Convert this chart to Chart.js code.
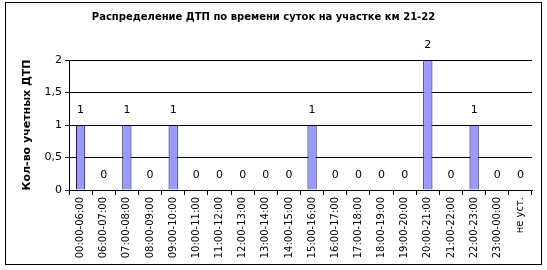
<!DOCTYPE html>
<html>
<head>
<meta charset="utf-8">
<script src="https://cdn.jsdelivr.net/npm/chart.js@4.4.0/dist/chart.umd.min.js"></script>
<style>
    html, body { margin: 0; padding: 0; background: #fff; }
    #wrap { width: 547px; height: 270px; position: relative; }
</style>
</head>
<body>
<div id="wrap"><canvas id="dtpChart" width="547" height="270"></canvas></div>
<script>
// chart data
const timeSlots = [
    "00:00-06:00", "06:00-07:00", "07:00-08:00", "08:00-09:00", "09:00-10:00",
    "10:00-11:00", "11:00-12:00", "12:00-13:00", "13:00-14:00", "14:00-15:00",
    "15:00-16:00", "16:00-17:00", "17:00-18:00", "18:00-19:00", "19:00-20:00",
    "20:00-21:00", "21:00-22:00", "22:00-23:00", "23:00-00:00", "не уст."
];
const accidentCounts = [1, 0, 1, 0, 1, 0, 0, 0, 0, 0, 1, 0, 0, 0, 0, 2, 0, 1, 0, 0];
const yTicks = [0, 0.5, 1, 1.5, 2];

const chartTitle = "Распределение ДТП по времени суток на участке км 21-22";
const yTitle = "Кол-во учетных ДТП";

// white background + outer frame
const framePlugin = {
    id: "frame",
    afterLayout(chart) {
        // title sits a bit left of centre in the original
        chart.titleBlock.left -= 13;
        chart.titleBlock.right -= 13;
    },
    beforeDraw(chart) {
        const ctx = chart.ctx;
        ctx.save();
        ctx.fillStyle = "#fff";
        ctx.fillRect(0, 0, chart.width, chart.height);
        ctx.strokeStyle = "#000";
        ctx.lineWidth = 1;
        ctx.strokeRect(5.5, 2.5, 536, 262);
        ctx.restore();
    }
};

// value labels above each bar
const valueLabels = {
    id: "valueLabels",
    afterDatasetsDraw(chart) {
        const ctx = chart.ctx;
        const meta = chart.getDatasetMeta(0);
        ctx.save();
        ctx.font = "11px 'DejaVu Sans'";
        ctx.fillStyle = "#000";
        ctx.textAlign = "center";
        ctx.textBaseline = "middle";
        meta.data.forEach((bar, i) => {
            ctx.fillText(String(accidentCounts[i]), bar.x, bar.y - 15);
        });
        ctx.restore();
    }
};

const ctx = document.getElementById("dtpChart").getContext("2d");

new Chart(ctx, {
    type: "bar",
    data: {
        labels: timeSlots,
        datasets: [{
            data: accidentCounts,
            backgroundColor: "#9999ff",
            borderColor: "#000033",
            borderWidth: 1,
            barPercentage: 0.4,
            categoryPercentage: 1
        }]
    },
    options: {
        responsive: false,
        animation: false,
        layout: {
            padding: { left: 21, right: 15, top: 0, bottom: 8 }
        },
        plugins: {
            legend: { display: false },
            tooltip: { enabled: false },
            title: {
                display: true,
                text: chartTitle,
                color: "#000",
                font: { family: "'DejaVu Sans'", size: 10, weight: "bold" },
                padding: { top: 11, bottom: 37 }
            }
        },
        scales: {
            x: {
                grid: {
                    drawOnChartArea: false,
                    drawTicks: true,
                    tickLength: 5,
                    color: "#000",
                    offset: true
                },
                border: { color: "#000" },
                ticks: {
                    color: "#000",
                    font: { family: "'DejaVu Sans'", size: 10 },
                    maxRotation: 90,
                    minRotation: 90,
                    autoSkip: false,
                    padding: 2
                },
                afterFit(scale) { scale.height = 72; }
            },
            y: {
                min: 0,
                max: 2,
                afterBuildTicks(scale) {
                    scale.ticks = yTicks.map(v => ({ value: v }));
                },
                grid: {
                    color: "#000",
                    tickLength: 4
                },
                border: { color: "#000" },
                ticks: {
                    color: "#000",
                    font: { family: "'DejaVu Sans'", size: 11 },
                    padding: 3,
                    callback: v => String(v).replace(".", ",")
                },
                title: {
                    display: true,
                    text: yTitle,
                    color: "#000",
                    font: { family: "'DejaVu Sans'", size: 11, weight: "bold" },
                    padding: { top: 0, bottom: 4 }
                },
                afterFit(scale) { scale.width = 48; }
            }
        }
    },
    plugins: [framePlugin, valueLabels]
});
</script>
</body>
</html>
